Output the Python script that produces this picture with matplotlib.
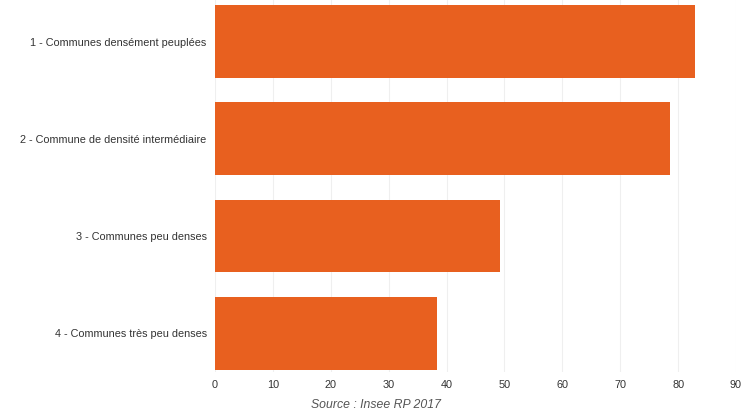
import matplotlib
matplotlib.use("Agg")
import matplotlib.pyplot as plt

categories = ["1 - Communes densément peuplées",
              "2 - Commune de densité intermédiaire",
              "3 - Communes peu denses",
              "4 - Communes très peu denses"]
values = [82.9, 78.6, 49.3, 38.4]
xticks = [0, 10, 20, 30, 40, 50, 60, 70, 80, 90]

plt.rcParams['font.family'] = ['Liberation Sans', 'DejaVu Sans']

fig = plt.figure(figsize=(7.45, 4.12), dpi=100)
ax = fig.add_axes([215/745, 1 - 372/412, 521/745, 372/412])

ypos = list(range(len(categories)))
ax.barh(ypos, values, height=0.75, color="#e8601f", zorder=3)
ax.set_ylim(3.40, -0.43)
ax.set_xlim(0, 90)
ax.set_xticks(xticks)
ax.set_yticks(ypos)
ax.set_yticklabels(categories, fontsize=7.8, color="#333333")
ax.tick_params(axis='x', labelsize=7.8, colors="#333333", length=0, pad=6)
ax.tick_params(axis='y', length=0, pad=6)
ax.grid(axis='x', color="#efefef", linewidth=0.8, zorder=0)
for s in ax.spines.values():
    s.set_visible(False)

fig.text(376/745, 1 - 405/412, "Source : Insee RP 2017", ha='center', va='center',
         fontsize=8.8, style='italic', color="#555555")

fig.savefig("out.png", dpi=100)
